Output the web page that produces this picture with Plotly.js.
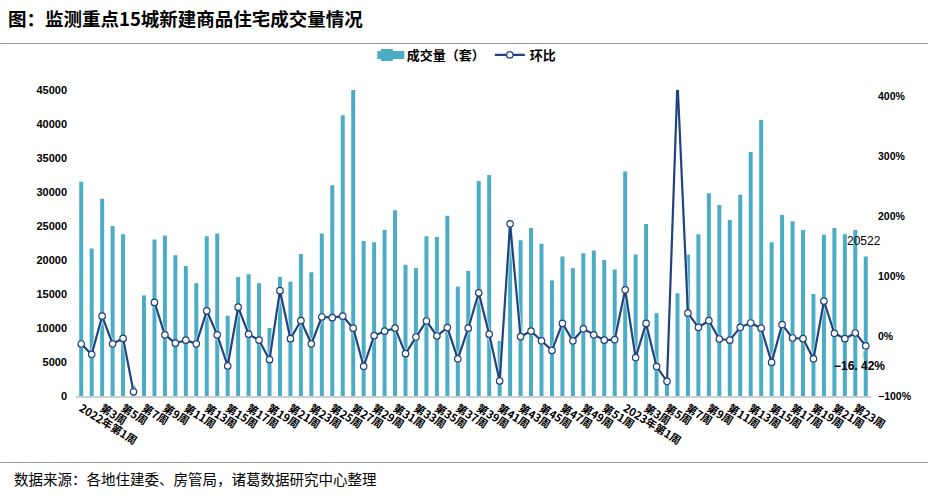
<!DOCTYPE html>
<html><head><meta charset="utf-8">
<script src="https://cdn.plot.ly/plotly-3.0.1.min.js"></script>
<style>html,body{margin:0;padding:0;background:#fff}#c{width:928px;height:496px}</style>
</head><body><div id="c"></div>
<script>
const weeks2022 = [];
for (let w = 1; w <= 52; w++) weeks2022.push(w === 1 ? '2022年第1周' : '第' + w + '周');
const weeks2023 = [];
for (let w = 1; w <= 24; w++) weeks2023.push(w === 1 ? '2023年第1周' : '第' + w + '周');
const categories = weeks2022.concat(weeks2023);

const volume = [31500,21700,29000,25000,23800,1500,14800,23000,23600,20700,19100,16600,23500,23900,11800,17500,17900,16600,10000,17500,16800,20900,18200,23900,31000,41300,45000,22800,22600,24400,27300,19300,18800,23500,23400,26500,16100,18400,31600,32500,8100,25000,22900,24700,22400,17000,20500,18800,21000,21400,20000,18600,33000,20800,25300,12200,2200,15100,20800,23800,29800,28100,25900,29600,35900,40600,22600,26600,25700,24400,15000,23700,24700,23800,24400,20522];
const ratio = [-13.3,-30.5,33,-13,-4,-93,null,56,2,-12,-7,-13,42,2,-50,48,3,-7,-39.5,75.5,-4.5,25.5,-13,31.7,30.5,33,13,-50.5,0.5,8,13,-29.5,-1.7,25,0,14,-38,13,72,3,-75,187,-1,8,-8,-24,21,-8,12,2,-7,-6,77,-36,21,-51,-75.5,425,38,14.5,25.5,-5,-7,14.5,21.7,13,-44,19,-3.3,-4.5,-38,58,4.5,-4.5,5,-16.42];
const volumeTicks = [0,5000,10000,15000,20000,25000,30000,35000,40000,45000];
const ratioTicks = [-100,0,100,200,300,400];
const ratioTickText = ['−100%','0%','100%','200%','300%','400%'];

const titleText = '图：监测重点15城新建商品住宅成交量情况';
const sourceText = '数据来源：各地住建委、房管局，诸葛数据研究中心整理';
const seriesNames = ['成交量（套）','环比'];

const CJK = '"Noto Sans CJK SC","Liberation Sans",sans-serif';
const LAT = '"Liberation Sans","Noto Sans CJK SC",sans-serif';
const L=75.8,R=870.6,T=90,B=396,pw=R-L,ph=B-T;
const px=x=>(x-L)/pw, py=y=>(B-y)/ph;
const idx=categories.map((_,i)=>i);
const last=categories.length-1;
const BAR='#4BACC6', LINE='#1F4480';

const traces=[
 {type:'bar',name:seriesNames[0],x:idx,y:volume,marker:{color:BAR},yaxis:'y',hoverinfo:'skip'},
 {type:'scatter',mode:'lines',showlegend:false,x:idx,y:ratio,yaxis:'y2',connectgaps:false,
  line:{color:'rgba(255,255,255,0.55)',width:4},hoverinfo:'skip'},
 {type:'scatter',mode:'lines+markers',name:seriesNames[1],x:idx,y:ratio,yaxis:'y2',connectgaps:false,
  line:{color:LINE,width:2.2},
  marker:{color:'#fff',size:6.5,line:{color:LINE,width:1.2}},hoverinfo:'skip'}
];
const layout={
 width:928,height:496,paper_bgcolor:'#fff',plot_bgcolor:'#fff',
 margin:{l:L,r:928-R,t:T,b:496-B,pad:0},
 bargap:0.62,showlegend:true,
 title:{text:titleText,x:8/928,xanchor:'left',y:1-20/496,yanchor:'middle',font:{family:CJK,size:18.5,color:'#000',weight:700}},
 legend:{orientation:'h',x:px(464),xanchor:'center',y:py(55),yanchor:'middle',font:{family:CJK,size:13,color:'#000',weight:700},itemwidth:30,traceorder:'normal',bgcolor:'rgba(0,0,0,0)'},
 xaxis:{type:'linear',range:[-0.5,last+0.5],tickmode:'array',
  tickvals:idx.filter(i=>i%2===0),ticktext:categories.filter((_,i)=>i%2===0),
  tickangle:32,ticks:'',showgrid:false,zeroline:false,showline:true,linecolor:'#d0d0d0',linewidth:2,
  tickfont:{family:CJK,size:11,color:'#000',weight:700}},
 yaxis:{range:[0,45000],tickmode:'array',tickvals:volumeTicks,ticktext:volumeTicks.map(String),
  ticks:'',showgrid:false,zeroline:false,showline:false,ticklabelstandoff:8,
  tickfont:{family:LAT,size:11,color:'#000',weight:700}},
 yaxis2:{overlaying:'y',side:'right',range:[-100,410],tickmode:'array',tickvals:ratioTicks,ticktext:ratioTickText,
  ticks:'',showgrid:false,zeroline:false,showline:false,ticklabelstandoff:6,
  tickfont:{family:LAT,size:10.5,color:'#000',weight:700}},
 shapes:[
  {type:'line',xref:'paper',yref:'paper',x0:px(0),x1:px(928),y0:py(43.5),y1:py(43.5),line:{color:'#999',width:1.2}},
  {type:'line',xref:'paper',yref:'paper',x0:px(0),x1:px(928),y0:py(462.5),y1:py(462.5),line:{color:'#999',width:1.2}},
  {type:'rect',xref:'paper',yref:'paper',x0:px(377),x1:px(404),y0:py(59),y1:py(51),line:{width:0},fillcolor:BAR}
 ],
 annotations:[
  {xref:'x',yref:'y',x:last,y:volume[last],text:String(volume[last]),showarrow:false,yshift:15,xshift:-2,font:{family:LAT,size:12,color:'#000'}},
  {xref:'x',yref:'y2',x:last,y:ratio[last],text:'−16. 42%',showarrow:true,arrowhead:0,arrowwidth:1,arrowcolor:'#bbb',ax:-6,ay:20,standoff:3,font:{family:LAT,size:12,color:'#000',weight:700}},
  {xref:'paper',yref:'paper',x:px(12),y:py(478),xanchor:'left',yanchor:'middle',text:sourceText,showarrow:false,font:{family:CJK,size:14.5,color:'#000'}}
 ]
};
Plotly.newPlot('c',traces,layout,{displayModeBar:false,staticPlot:true});
</script></body></html>
